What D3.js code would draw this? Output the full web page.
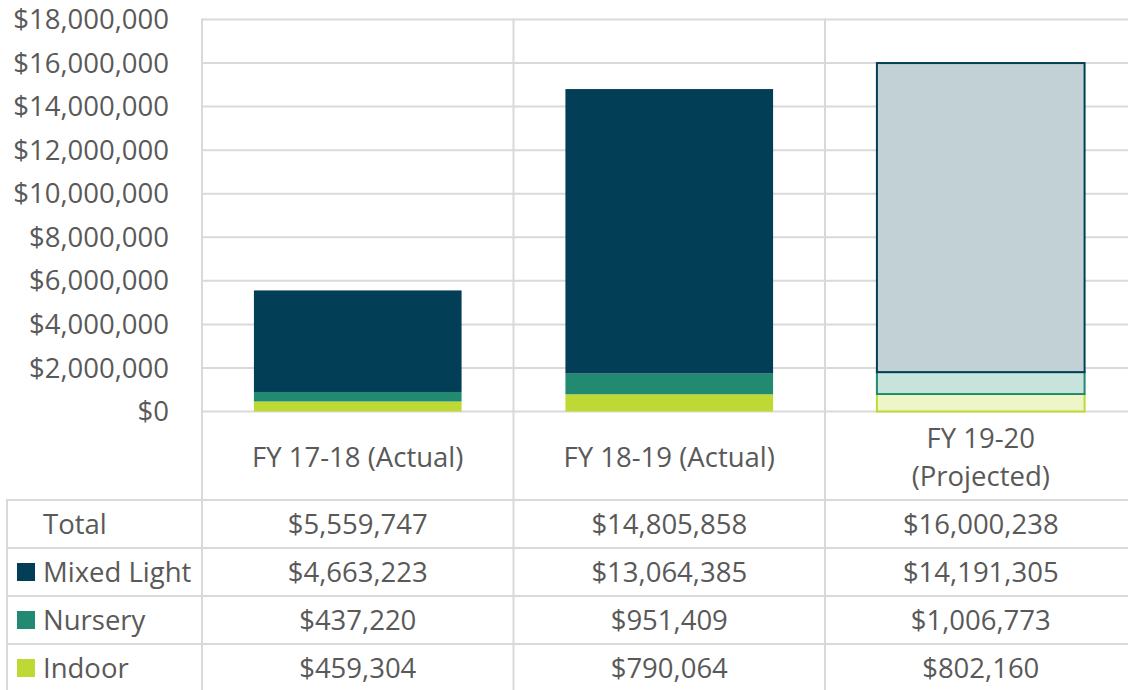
<!DOCTYPE html>
<html>
<head>
<meta charset="UTF-8">
<title>Revenue by type</title>
<script src="https://cdn.jsdelivr.net/npm/d3@7"></script>
<style>
  html, body { margin: 0; padding: 0; background: #fff; }
  svg { display: block; }
  text { font-family: "Open Sans", sans-serif; fill: #595959; }
</style>
</head>
<body>
<div id="chart"></div>
<script>
// data
var categories = ["FY 17-18 (Actual)", "FY 18-19 (Actual)", "FY 19-20\n(Projected)"];
var projected = [false, false, true];
var seriesNames = ["Indoor", "Nursery", "Mixed Light"];   // bottom to top
var indoor = [459304, 790064, 802160];
var nursery = [437220, 951409, 1006773];
var mixedLight = [4663223, 13064385, 14191305];
var totals = [5559747, 14805858, 16000238];
var yTicks = [0, 2000000, 4000000, 6000000, 8000000, 10000000, 12000000, 14000000, 16000000, 18000000];

var colors = { "Mixed Light": "#023f56", "Nursery": "#218a70", "Indoor": "#bfd934" };
var lightFill = { "Mixed Light": "#c1d1d6", "Nursery": "#c7e3db", "Indoor": "#eef6c9" };

var W = 1128, H = 690;
var plot = { left: 202, top: 19.5, bottom: 411.5, right: 1136.5 };
var grid = "#d9d9d9";
var fs = "27.5px";

var svg = d3.select("#chart").append("svg")
    .attr("width", W)
    .attr("height", H);

var x = d3.scaleBand()
    .domain(categories)
    .range([plot.left, plot.right])
    .paddingInner(1 / 3)
    .paddingOuter(1 / 6);

var step = x.step();

var y = d3.scaleLinear()
    .domain([0, 18000000])
    .range([plot.bottom, plot.top]);

var fmt = d3.format("$,.0f");

// horizontal gridlines
svg.append("g").selectAll("line")
    .data(yTicks)
  .enter().append("line")
    .attr("x1", plot.left).attr("x2", W)
    .attr("y1", function(d) { return y(d); })
    .attr("y2", function(d) { return y(d); })
    .attr("stroke", grid).attr("stroke-width", 2);

// vertical dividers (chart + table)
var colEdges = categories.map(function(c) { return x(c) - step / 6; });
svg.append("g").selectAll("line")
    .data(colEdges)
  .enter().append("line")
    .attr("x1", function(d) { return d; })
    .attr("x2", function(d) { return d; })
    .attr("y1", plot.top - 1).attr("y2", H)
    .attr("stroke", grid).attr("stroke-width", 2);

// y axis labels
svg.append("g").selectAll("text")
    .data(yTicks)
  .enter().append("text")
    .attr("x", 169)
    .attr("y", function(d) { return y(d); })
    .attr("dy", "0.35em")
    .attr("text-anchor", "end")
    .style("font-size", fs)
    .text(function(d) { return fmt(d); });

// stacked bars
var rows = categories.map(function(c, i) {
  return { cat: c, proj: projected[i], "Indoor": indoor[i], "Nursery": nursery[i], "Mixed Light": mixedLight[i] };
});
var stack = d3.stack().keys(seriesNames)(rows);

stack.forEach(function(layer) {
  var key = layer.key;
  svg.append("g").selectAll("rect")
      .data(layer)
    .enter().append("rect")
      .attr("x", function(d) { return x(d.data.cat); })
      .attr("width", x.bandwidth())
      .attr("y", function(d) { return y(d[1]); })
      .attr("height", function(d) { return y(d[0]) - y(d[1]); })
      .attr("fill", function(d) { return d.data.proj ? lightFill[key] : colors[key]; })
      .attr("stroke", function(d) { return d.data.proj ? colors[key] : "none"; })
      .attr("stroke-width", 2);
});

// category labels
categories.forEach(function(c) {
  var lines = c.split("\n");
  var cy = 457;
  var lh = 38;
  var t = svg.append("text")
      .attr("x", x(c) + x.bandwidth() / 2)
      .attr("text-anchor", "middle")
      .style("font-size", fs);
  lines.forEach(function(l, j) {
    t.append("tspan")
      .attr("x", x(c) + x.bandwidth() / 2)
      .attr("y", cy + (j - (lines.length - 1) / 2) * lh)
      .attr("dy", "0.35em")
      .text(l);
  });
});

// data table
var tableTop = 500, rowH = 48, tableLeft = 7;
var tableRows = [
  { name: "Total", values: totals, key: null },
  { name: "Mixed Light", values: mixedLight, key: "Mixed Light" },
  { name: "Nursery", values: nursery, key: "Nursery" },
  { name: "Indoor", values: indoor, key: "Indoor" }
];

var tg = svg.append("g");
tg.selectAll("line.h")
    .data(d3.range(tableRows.length + 1))
  .enter().append("line")
    .attr("x1", tableLeft).attr("x2", W)
    .attr("y1", function(i) { return tableTop + i * rowH; })
    .attr("y2", function(i) { return tableTop + i * rowH; })
    .attr("stroke", grid).attr("stroke-width", 2);
tg.append("line")
    .attr("x1", tableLeft).attr("x2", tableLeft)
    .attr("y1", tableTop - 1).attr("y2", H)
    .attr("stroke", grid).attr("stroke-width", 2);

tableRows.forEach(function(r, i) {
  var cy = tableTop + i * rowH + rowH / 2;
  if (r.key) {
    tg.append("rect")
      .attr("x", 17).attr("y", cy - 9)
      .attr("width", 18).attr("height", 18)
      .attr("fill", colors[r.key]);
  }
  tg.append("text")
    .attr("x", 43).attr("y", cy)
    .attr("dy", "0.35em")
    .style("font-size", fs)
    .text(r.name);
  r.values.forEach(function(v, j) {
    tg.append("text")
      .attr("x", x(categories[j]) + x.bandwidth() / 2)
      .attr("y", cy)
      .attr("dy", "0.35em")
      .attr("text-anchor", "middle")
      .style("font-size", fs)
      .text(fmt(v));
  });
});
</script>
</body>
</html>
